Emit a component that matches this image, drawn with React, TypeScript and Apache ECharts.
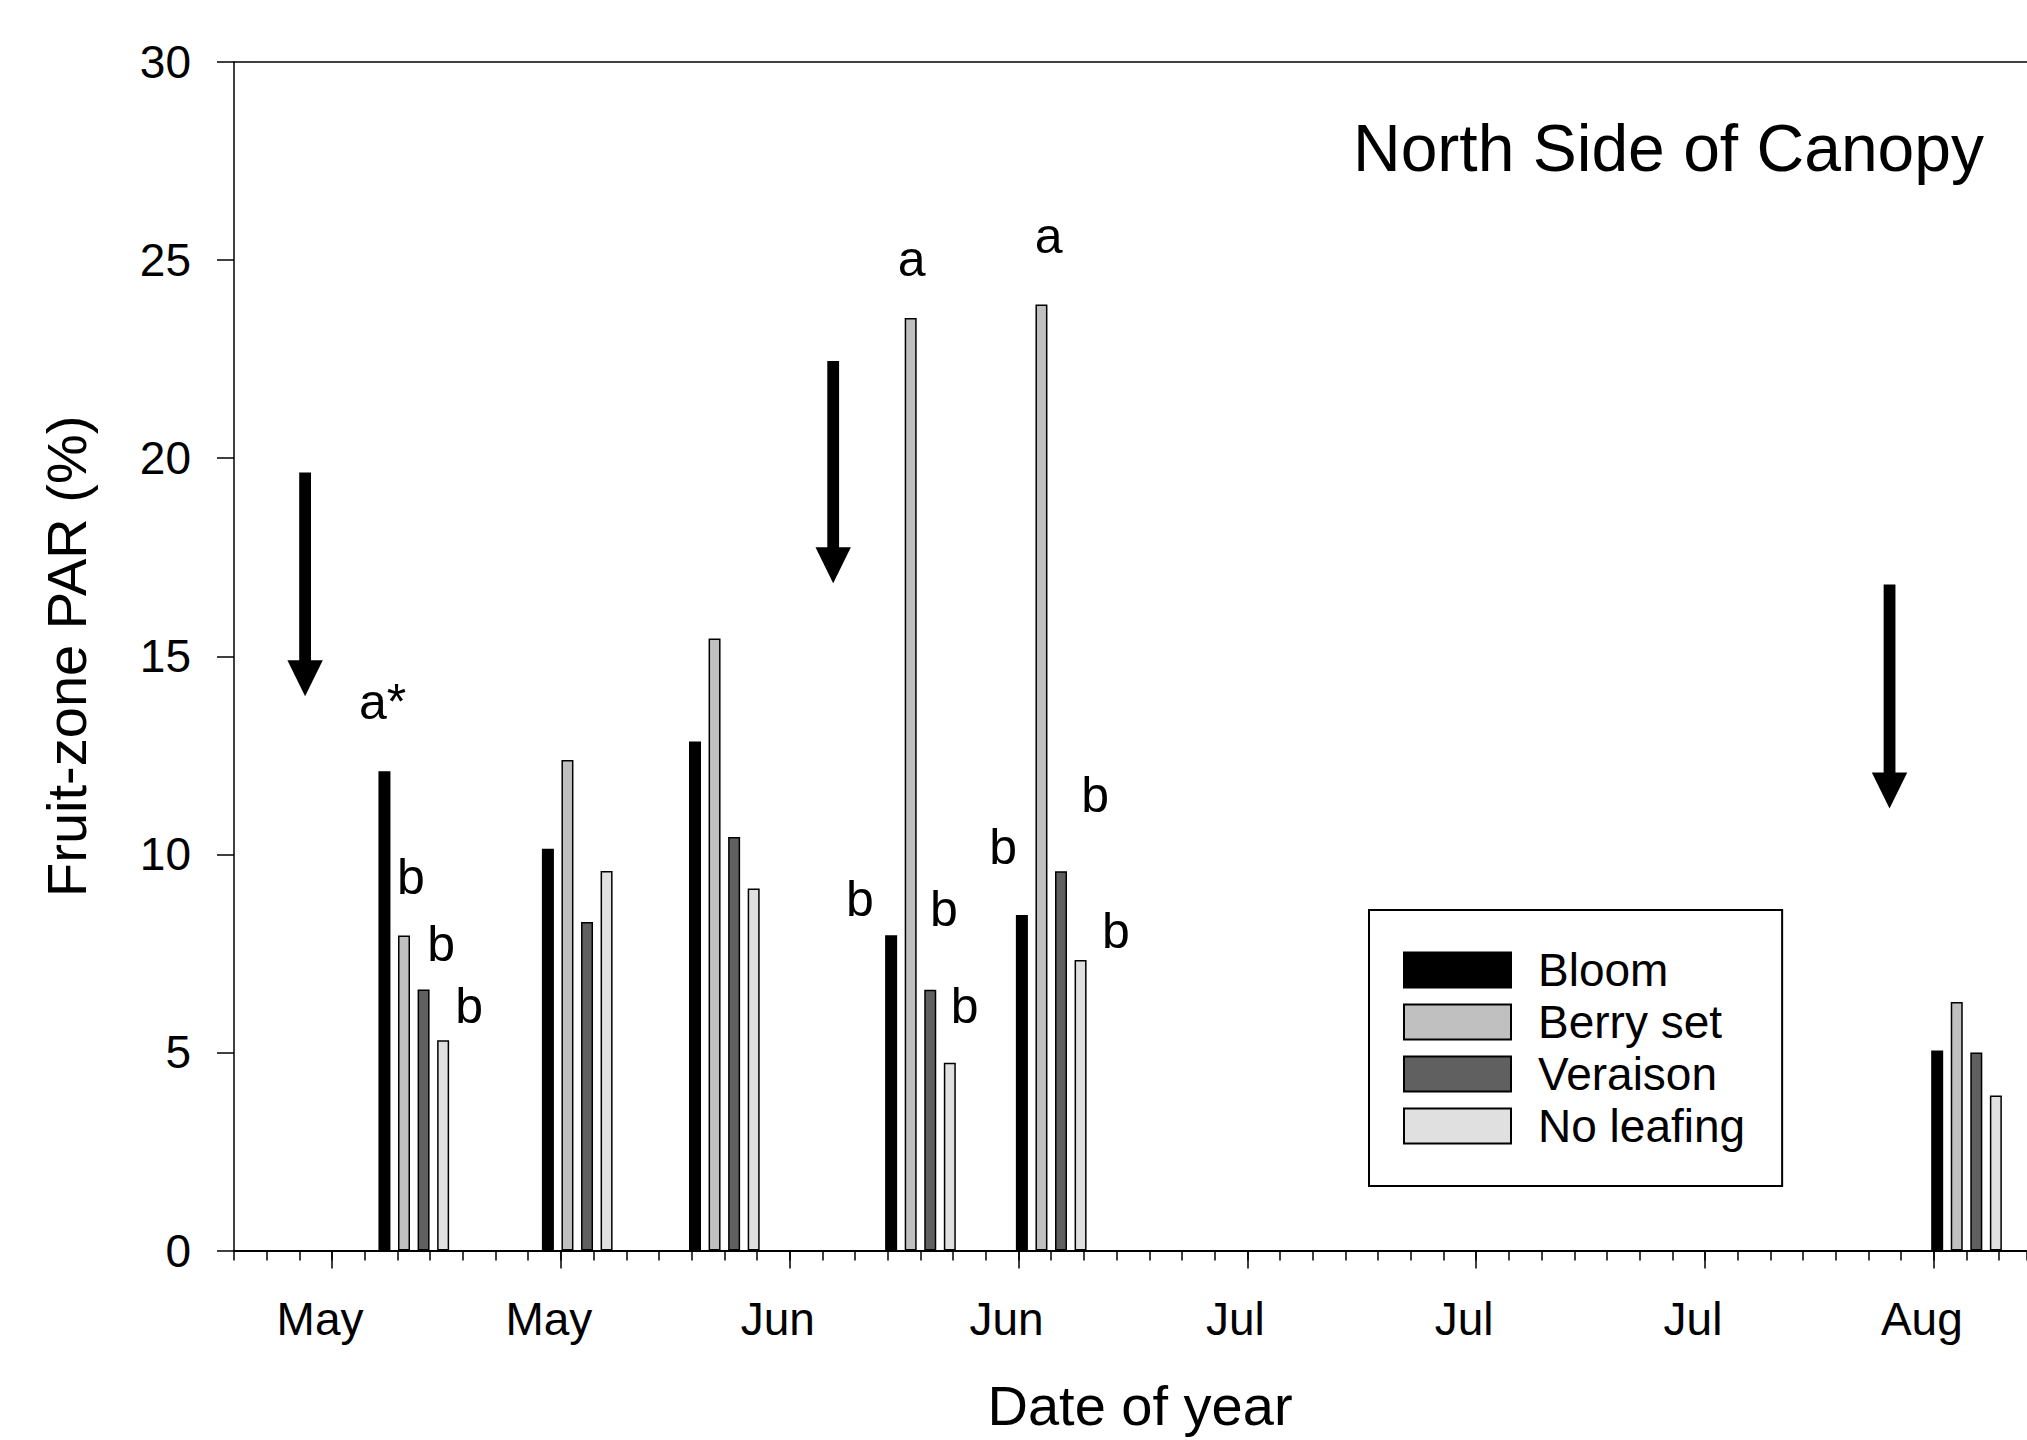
import React, { useEffect, useRef } from "react";
import * as echarts from "echarts";

const FONT = "'Liberation Sans', Arial, Helvetica, sans-serif";

// Treatments (legend) and their fills
const seriesNames = ["Bloom", "Berry set", "Veraison", "No leafing"];
const seriesColors = ["#000000", "#c0c0c0", "#606060", "#e0e0e0"];

// Sampling dates as day of year
const sampleDays = [131, 141, 150, 162, 170, 226];
const bloomValues = [12.1, 10.14, 12.85, 7.96, 8.47, 5.05];
const berrySetValues = [7.95, 12.38, 15.45, 23.54, 23.88, 6.27];
const veraisonValues = [6.59, 8.29, 10.44, 6.58, 9.57, 5.0];
const noLeafingValues = [5.31, 9.58, 9.14, 4.74, 7.33, 3.91];
const allValues = [bloomValues, berrySetValues, veraisonValues, noLeafingValues];

// X axis (day of year)
const xMin = 120;
const xMax = 229.7;
const minorTickInterval = 2;
const majorTickDays = [126, 140, 154, 168, 182, 196, 210, 224];
const majorTickLabels = ["May", "May", "Jun", "Jun", "Jul", "Jul", "Jul", "Aug"];

// Y axis
const yMin = 0;
const yMax = 30;
const yInterval = 5;

// Significance letters
const letterTexts = ["a*", "b", "b", "b", "b", "a", "b", "b", "b", "a", "b", "b"];
const letterDays = [129.09, 130.83, 132.67, 134.38, 158.29, 161.46, 163.43, 164.7, 167.06, 169.84, 172.69, 173.95];
const letterValues = [13.84, 9.44, 7.74, 6.18, 8.88, 25.02, 8.62, 6.18, 10.19, 25.6, 11.49, 8.07];

// Leaf-removal arrows
const arrowDays = [124.35, 156.66, 221.29];
const arrowTopValues = [19.64, 22.45, 16.81];
const arrowTipValues = [13.99, 16.84, 11.16];

export default function App() {
  const ref = useRef<HTMLDivElement>(null);

  useEffect(() => {
    if (!ref.current) return;
    const chart = echarts.init(ref.current, null, { renderer: "svg" });

    const barSeries = seriesNames.map((name, i) => ({
      type: "bar",
      name,
      xAxisIndex: 0,
      yAxisIndex: 0,
      data: sampleDays.map((d, j) => [d, allValues[i][j]]),
      barWidth: 12,
      barGap: "63%",
      itemStyle: { color: seriesColors[i], borderColor: "#000", borderWidth: 1.5 },
      z: 2,
    }));

    const option: any = {
      animation: false,
      backgroundColor: "#fff",
      textStyle: { fontFamily: FONT },
      title: {
        text: "North Side of Canopy",
        right: 43,
        top: 115,
        padding: 0,
        textStyle: { fontSize: 66, fontWeight: "normal", color: "#000", fontFamily: FONT },
      },
      grid: {
        left: 234,
        top: 62,
        right: 0,
        bottom: 189.5,
        containLabel: false,
        outerBoundsMode: "none",
      },
      legend: {
        data: seriesNames,
        orient: "vertical",
        left: 1369,
        top: 910,
        padding: [37, 37, 37, 34],
        borderColor: "#000",
        borderWidth: 2,
        backgroundColor: "#fff",
        itemWidth: 107,
        itemHeight: 35,
        itemGap: 6,
        icon: "rect",
        selectedMode: false,
        textStyle: { fontSize: 46, color: "#000", fontFamily: FONT, padding: [0, 0, 0, 22] },
      },
      xAxis: [
        {
          type: "value",
          position: "bottom",
          min: xMin,
          max: xMax,
          axisLine: { show: true, onZero: false, lineStyle: { color: "#000", width: 2 } },
          axisTick: { show: true, length: 18, customValues: majorTickDays, lineStyle: { color: "#000", width: 1.5 } },
          axisLabel: {
            show: true,
            customValues: majorTickDays,
            formatter: (v: number) => {
              const idx = majorTickDays.indexOf(Math.round(v));
              return idx >= 0 ? majorTickLabels[idx] : "";
            },
            fontSize: 46,
            color: "#000",
            fontFamily: FONT,
            margin: 45,
            padding: [0, 24, 0, 0],
          },
          splitLine: { show: false },
          name: "Date of year",
          nameLocation: "middle",
          nameGap: 127,
          nameTextStyle: { fontSize: 56, color: "#000", fontFamily: FONT, padding: [0, 0, 0, 19] },
        },
        {
          type: "value",
          position: "bottom",
          min: xMin,
          max: xMax,
          interval: minorTickInterval,
          axisLine: { show: false, onZero: false },
          axisTick: { show: true, length: 10, lineStyle: { color: "#000", width: 1.5 } },
          axisLabel: { show: false },
          splitLine: { show: false },
        },
        {
          type: "value",
          position: "top",
          min: xMin,
          max: xMax,
          axisLine: { show: true, onZero: false, lineStyle: { color: "#000", width: 1.5 } },
          axisTick: { show: false },
          axisLabel: { show: false },
          splitLine: { show: false },
        },
      ],
      yAxis: {
        type: "value",
        position: "left",
        min: yMin,
        max: yMax,
        interval: yInterval,
        axisLine: { show: true, onZero: false, lineStyle: { color: "#000", width: 1.5 } },
        axisTick: { show: true, length: 17, lineStyle: { color: "#000", width: 1.5 } },
        axisLabel: { fontSize: 46, color: "#000", margin: 43, fontFamily: FONT },
        splitLine: { show: false },
        name: "Fruit-zone PAR (%)",
        nameLocation: "middle",
        nameGap: 140,
        nameTextStyle: { fontSize: 56, color: "#000", fontFamily: FONT },
      },
      series: [
        ...barSeries,
        {
          type: "custom",
          name: "letters",
          xAxisIndex: 0,
          yAxisIndex: 0,
          silent: true,
          data: letterTexts.map((t, i) => [letterDays[i], letterValues[i]]),
          encode: { x: 0, y: 1 },
          renderItem: (params: any, api: any) => {
            const p = api.coord([api.value(0), api.value(1)]);
            return {
              type: "text",
              x: p[0],
              y: p[1],
              style: {
                text: letterTexts[params.dataIndex],
                fill: "#000",
                fontSize: 50,
                fontFamily: FONT,
                align: "center",
                verticalAlign: "middle",
              },
            };
          },
          z: 5,
        },
        {
          type: "custom",
          name: "arrows",
          xAxisIndex: 0,
          yAxisIndex: 0,
          silent: true,
          data: arrowDays.map((d, i) => [d, arrowTopValues[i], arrowTipValues[i]]),
          encode: { x: 0, y: [1, 2] },
          renderItem: (params: any, api: any) => {
            const top = api.coord([api.value(0), api.value(1)]);
            const tip = api.coord([api.value(0), api.value(2)]);
            const shaftHalf = 5.9;
            const headHalf = 17.7;
            const headH = 36;
            return {
              type: "group",
              children: [
                {
                  type: "rect",
                  shape: { x: top[0] - shaftHalf, y: top[1], width: shaftHalf * 2, height: tip[1] - headH - top[1] + 1 },
                  style: { fill: "#000" },
                },
                {
                  type: "polygon",
                  shape: {
                    points: [
                      [tip[0] - headHalf, tip[1] - headH],
                      [tip[0] + headHalf, tip[1] - headH],
                      [tip[0], tip[1]],
                    ],
                  },
                  style: { fill: "#000" },
                },
              ],
            };
          },
          z: 4,
        },
      ],
    };

    chart.setOption(option);
    return () => chart.dispose();
  }, []);

  return (
    <div
      ref={ref}
      style={{ position: "fixed", left: 0, top: 0, width: 2027, height: 1440, background: "#fff" }}
    />
  );
}
